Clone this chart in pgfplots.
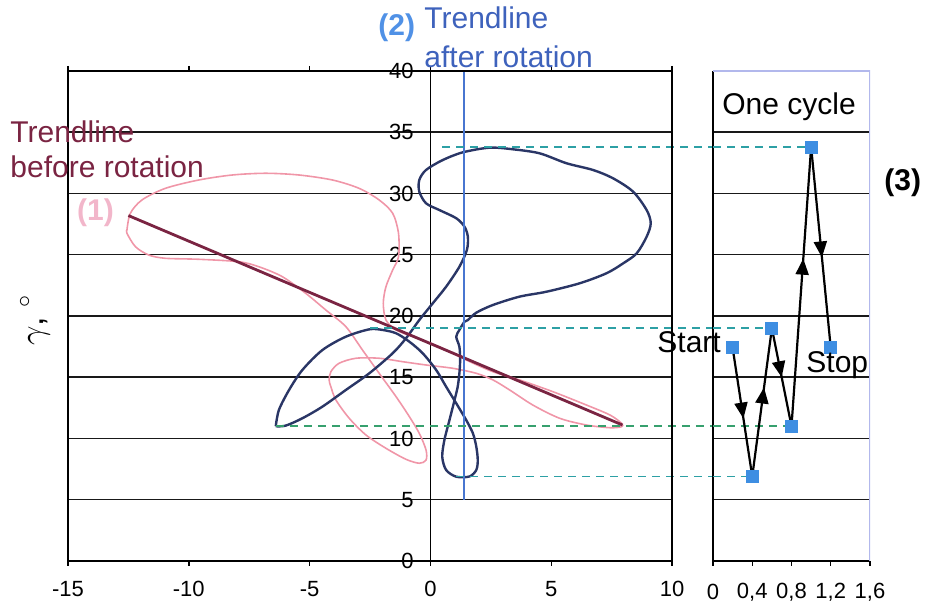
\documentclass[border=0pt]{standalone}
\usepackage{pgfplots}
\pgfplotsset{compat=1.18}
\usepackage{fontspec}
\setmainfont{Liberation Sans}
\usetikzlibrary{decorations.markings,arrows.meta}

\definecolor{loopnavy}{RGB}{42,54,102}
\definecolor{looppink}{RGB}{240,150,168}
\definecolor{trendmaroon}{RGB}{122,36,66}
\definecolor{trendblue}{RGB}{72,118,208}
\definecolor{labeltwo}{RGB}{80,145,230}
\definecolor{afterblue}{RGB}{62,98,188}
\definecolor{labelone}{RGB}{242,182,202}
\definecolor{dashteal}{RGB}{45,160,165}
\definecolor{dashgreen}{RGB}{55,160,110}
\definecolor{markblue}{RGB}{62,142,226}
\definecolor{panelframe}{RGB}{178,184,236}

\newcommand{\lbl}{\fontsize{15}{17}\selectfont}

\begin{document}
\begin{tikzpicture}
\useasboundingbox (0,0) rectangle (463.5pt,304pt);

% ---------- main panel: gamma against alpha ----------
\begin{axis}[
  at={(34pt,23.5pt)}, anchor=south west,
  scale only axis, width=302pt, height=245pt,
  xmin=-15, xmax=10, ymin=0, ymax=40,
  xtick={-15,-10,-5,0,5,10},
  xticklabels={-15,-10,-5,0,5,10},
  ytick={0,5,10,15,20,25,30,35,40},
  yticklabels={0,5,10,15,20,25,30,35,40},
  ymajorgrids,
  grid style={black!90, line width=0.75pt},
  axis line style={black, line width=0.9pt},
  tick align=outside,
  major tick length=2.5pt,
  x tick style={black, line width=0.7pt},
  y tick style={draw=none},
  xticklabel style={font=\fontsize{11}{12}\selectfont, anchor=center, inner sep=0pt, yshift=-11.5pt},
  yticklabel style={font=\fontsize{11}{12}\selectfont, anchor=east, inner sep=0pt, xshift=175.5pt},
  clip=false,
]
% vertical axis through alpha = 0
\addplot[black, line width=0.9pt] coordinates {(0,0) (0,40)};

% (1) loop before rotation
\addplot[looppink, line width=0.8pt, smooth, tension=0.5] coordinates {
(-12.56,27.02) (-12.42,28.38) (-11.94,29.47) (-10.97,30.42) (-9.59,31.10)
(-8.20,31.51) (-6.82,31.65) (-5.44,31.51) (-4.05,31.10) (-2.95,30.42)
(-2.12,29.47) (-1.56,28.38) (-1.32,26.75) (-1.32,24.84) (-1.56,23.76)
(-1.84,22.39) (-1.95,21.04) (-1.84,19.67) (-1.42,18.86) (-0.73,18.31)
(0.37,17.49) (1.48,16.41) (2.59,15.45) (3.69,14.78) (5.07,13.82)
(6.46,12.73) (7.43,11.92) (7.91,11.24) (7.91,10.96) (7.43,10.88)
(6.46,11.10) (5.35,11.65) (4.24,12.73) (3.28,13.96) (2.59,14.78)
(1.90,15.32) (0.93,15.73) (-0.18,16.00) (-1.15,16.27) (-2.12,16.55)
(-3.08,16.55) (-3.78,16.14) (-4.12,15.45) (-4.19,14.78) (-4.12,14.23)
(-3.91,13.14) (-3.36,11.65) (-2.67,10.29) (-1.84,9.20) (-1.01,8.30)
(-0.46,7.98) (-0.18,8.24) (-0.18,9.06) (-0.46,10.42) (-0.87,11.78)
(-1.42,13.41) (-2.12,15.32) (-2.81,17.22) (-3.50,19.13) (-4.33,20.49)
(-5.16,21.85) (-6.13,23.21) (-7.10,24.02) (-7.93,24.43) (-9.59,24.63)
(-10.97,24.71) (-11.66,24.98) (-12.21,25.66) (-12.56,26.75) (-12.56,27.02)
};

% (2) loop after rotation
\addplot[loopnavy, line width=1.2pt, smooth, tension=0.5] coordinates {
(-6.40,11.00) (-5.99,11.05) (-5.30,11.65) (-4.47,12.60) (-3.50,13.96)
(-2.53,15.32) (-1.56,16.96) (-1.01,18.18) (-0.46,19.67) (0.10,21.04)
(0.65,22.39) (1.20,24.02) (1.51,25.39) (1.55,26.47) (1.41,27.29)
(1.07,27.98) (0.37,28.65) (-0.18,29.20) (-0.46,30.15) (-0.46,31.10)
(-0.18,31.92) (0.51,32.73) (1.34,33.36) (2.45,33.74) (3.41,33.61)
(4.52,33.28) (5.63,32.47) (6.73,31.92) (7.56,31.24) (8.39,30.15)
(8.95,28.65) (9.12,27.57) (8.95,26.47) (8.54,25.12) (7.98,24.30)
(7.29,23.49) (6.18,22.67) (4.80,21.98) (3.69,21.58) (2.59,20.90)
(1.90,20.27) (1.55,19.67) (1.41,19.53) (1.20,18.86) (1.07,18.31)
(1.20,17.49) (1.23,16.41) (1.20,15.32) (1.13,14.23) (1.00,13.14)
(0.79,11.51) (0.58,9.88) (0.49,8.51) (0.65,7.43) (1.07,6.88)
(1.62,6.90) (1.90,7.43) (1.96,8.24) (1.90,9.33) (1.76,10.42)
(1.48,11.51) (1.07,12.87) (0.65,14.23) (0.24,15.59) (-0.32,16.96)
(-0.87,17.90) (-1.42,18.59) (-1.98,18.86) (-2.53,18.91) (-3.50,18.31)
(-4.47,17.22) (-5.30,15.59) (-5.85,13.96) (-6.27,12.33) (-6.40,11.00)
};

% trendline before rotation
\addplot[trendmaroon, line width=1.4pt] coordinates {(-12.5,28.2) (7.95,11.1)};
% trendline after rotation
\addplot[trendblue, line width=1.1pt] coordinates {(1.4,5) (1.4,40)};

% guide lines towards the cycle panel
\addplot[dashteal, line width=0.75pt, dash pattern=on 4pt off 3pt] coordinates {(0.5,33.8) (11.7,33.8)};
\addplot[dashteal, line width=0.75pt, dash pattern=on 4pt off 3pt] coordinates {(-2.5,19.0) (11.7,19.0)};
\addplot[dashgreen, line width=0.75pt, dash pattern=on 4pt off 3pt] coordinates {(-6.4,11.0) (11.7,11.0)};
\addplot[dashteal, line width=0.75pt, dash pattern=on 4pt off 3pt] coordinates {(1.08,6.9) (11.7,6.9)};
\end{axis}

% frame of the main panel
\draw[black, line width=1pt] (34pt,23.5pt) rectangle (336pt,268.5pt);

% ---------- right panel: one cycle ----------
\begin{axis}[
  at={(356.5pt,23.5pt)}, anchor=south west,
  scale only axis, width=78.5pt, height=245pt,
  xmin=0, xmax=1.6, ymin=0, ymax=40,
  axis lines=left,
  axis line style={black, line width=0.9pt, -},
  xtick={0,0.4,0.8,1.2,1.6},
  xticklabels={0,{0,4},{0,8},{1,2},{1,6}},
  ytick={5,10,15,20,25,30,35},
  yticklabels={},
  ymajorgrids,
  grid style={black!90, line width=0.75pt},
  tick align=outside,
  major tick length=2.5pt,
  x tick style={black, line width=0.7pt},
  y tick style={draw=none},
  xticklabel style={font=\fontsize{11}{12}\selectfont, anchor=center, inner sep=0pt, yshift=-13pt},
]
\draw[panelframe, line width=0.6pt] (rel axis cs:0,1) -- (rel axis cs:1,1) -- (rel axis cs:1,0);

\addplot[dashteal, line width=0.75pt, dash pattern=on 4pt off 3pt] coordinates {(0,33.8) (1.0,33.8)};
\addplot[dashteal, line width=0.75pt, dash pattern=on 4pt off 3pt] coordinates {(0,19.0) (0.6,19.0)};
\addplot[dashgreen, line width=0.75pt, dash pattern=on 4pt off 3pt] coordinates {(0,11.0) (0.8,11.0)};
\addplot[dashteal, line width=0.75pt, dash pattern=on 4pt off 3pt] coordinates {(0,6.9) (0.4,6.9)};

% cycle path, one arrow per step
\addplot[black, line width=1.1pt, postaction={decorate}, decoration={markings, mark=at position 0.55 with {\arrow{Triangle[length=8pt,width=6.5pt]}}}] coordinates {(0.2,17.4) (0.4,6.9)};
\addplot[black, line width=1.1pt, postaction={decorate}, decoration={markings, mark=at position 0.6 with {\arrow{Triangle[length=8pt,width=6.5pt]}}}] coordinates {(0.4,6.9) (0.6,19.0)};
\addplot[black, line width=1.1pt, postaction={decorate}, decoration={markings, mark=at position 0.5 with {\arrow{Triangle[length=8pt,width=6.5pt]}}}] coordinates {(0.6,19.0) (0.8,11.0)};
\addplot[black, line width=1.1pt, postaction={decorate}, decoration={markings, mark=at position 0.6 with {\arrow{Triangle[length=8pt,width=6.5pt]}}}] coordinates {(0.8,11.0) (1.0,33.8)};
\addplot[black, line width=1.1pt, postaction={decorate}, decoration={markings, mark=at position 0.55 with {\arrow{Triangle[length=8pt,width=6.5pt]}}}] coordinates {(1.0,33.8) (1.2,17.4)};

\addplot[only marks, mark=square*, mark size=3pt, mark options={fill=markblue, draw=markblue}] coordinates {
(0.2,17.4) (0.4,6.9) (0.6,19.0) (0.8,11.0) (1.0,33.8) (1.2,17.4)};
\end{axis}

% ---------- annotations ----------
\node[anchor=base west, inner sep=0pt, text=trendmaroon] at (5pt,232.5pt) {\lbl Trendline};
\node[anchor=base west, inner sep=0pt, text=trendmaroon] at (5pt,215pt) {\lbl before rotation};
\node[inner sep=0pt, text=labelone] at (47.75pt,197.5pt) {\lbl\bfseries (1)};
\node[anchor=base west, inner sep=0pt, text=labeltwo] at (189pt,286pt) {\lbl\bfseries (2)};
\node[anchor=base west, inner sep=0pt, text=afterblue] at (212pt,289.5pt) {\lbl Trendline};
\node[anchor=base west, inner sep=0pt, text=afterblue] at (212pt,270pt) {\lbl after rotation};
\node[anchor=base west, inner sep=0pt] at (361pt,246.5pt) {\lbl One cycle};
\node[anchor=base west, inner sep=0pt] at (442pt,208.5pt) {\lbl\bfseries (3)};
\node[anchor=base west, inner sep=0pt] at (328.5pt,127.5pt) {\lbl Start};
\node[anchor=base west, inner sep=0pt] at (403pt,117.5pt) {\lbl Stop};
\node[rotate=90, inner sep=0pt] at (17.5pt,144pt) {\fontsize{17}{19}\selectfont $\gamma$, $^\circ$};
\end{tikzpicture}
\end{document}
